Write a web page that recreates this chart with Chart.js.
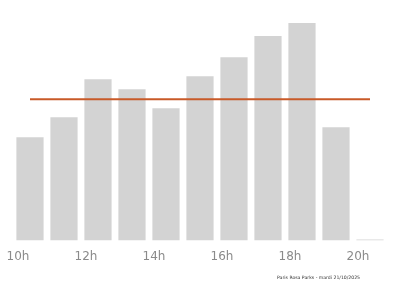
<!DOCTYPE html>
<html>
<head>
<meta charset="utf-8">
<style>
  html, body { margin: 0; padding: 0; background: #fff; }
  #wrap { width: 400px; height: 286px; }
</style>
<script src="https://cdn.jsdelivr.net/npm/chart.js@4"></script>
</head>
<body>
<div id="wrap"><canvas id="c"></canvas></div>
<script>
// hourly attendance
const hours = ['10h','11h','12h','13h','14h','15h','16h','17h','18h','19h','20h'];
const visits = [51.5, 61.5, 80.5, 75.5, 66, 82, 91.5, 102, 108.5, 56.5, 0];
const footer = 'Paris Rosa Parks - mardi 21/10/2025';

const avg = visits.reduce((a, b) => a + b, 0) / visits.length;
const avgLine = visits.map(() => avg);

const footerPlugin = {
  id: 'footer',
  afterDraw(chart) {
    const c = chart.ctx;
    c.save();
    c.font = "4.6px 'DejaVu Sans', sans-serif";
    c.fillStyle = '#333';
    c.textAlign = 'left';
    c.textBaseline = 'middle';
    c.fillText(footer, 277, 278);
    c.restore();
  }
};

new Chart(document.getElementById('c'), {
  data: {
    labels: hours,
    datasets: [
      {
        type: 'line', data: avgLine,
        borderColor: '#c85a28', borderWidth: 2,
        pointRadius: 0, fill: false, order: 0
      },
      {
        type: 'bar', data: visits,
        backgroundColor: '#d3d3d3',
        categoryPercentage: 0.8, barPercentage: 1.0,
        minBarLength: 1, order: 1
      }
    ]
  },
  options: {
    responsive: true, maintainAspectRatio: false, animation: false,
    layout: { padding: { left: 13, right: 13, top: 0, bottom: 13 } },
    plugins: { legend: { display: false }, tooltip: { enabled: false } },
    scales: {
      x: {
        offset: true,
        grid: { display: false, drawTicks: false },
        border: { display: false },
        ticks: {
          color: '#8a8a8a', font: { family: "'DejaVu Sans', sans-serif", size: 12 },
          padding: 9, labelOffset: -12, maxRotation: 0, autoSkip: false,
          callback: (v, i) => i % 2 === 0 ? hours[i] : ''
        }
      },
      y: {
        display: false, min: 0, max: 120
      }
    }
  },
  plugins: [footerPlugin]
});
</script>
</body>
</html>
